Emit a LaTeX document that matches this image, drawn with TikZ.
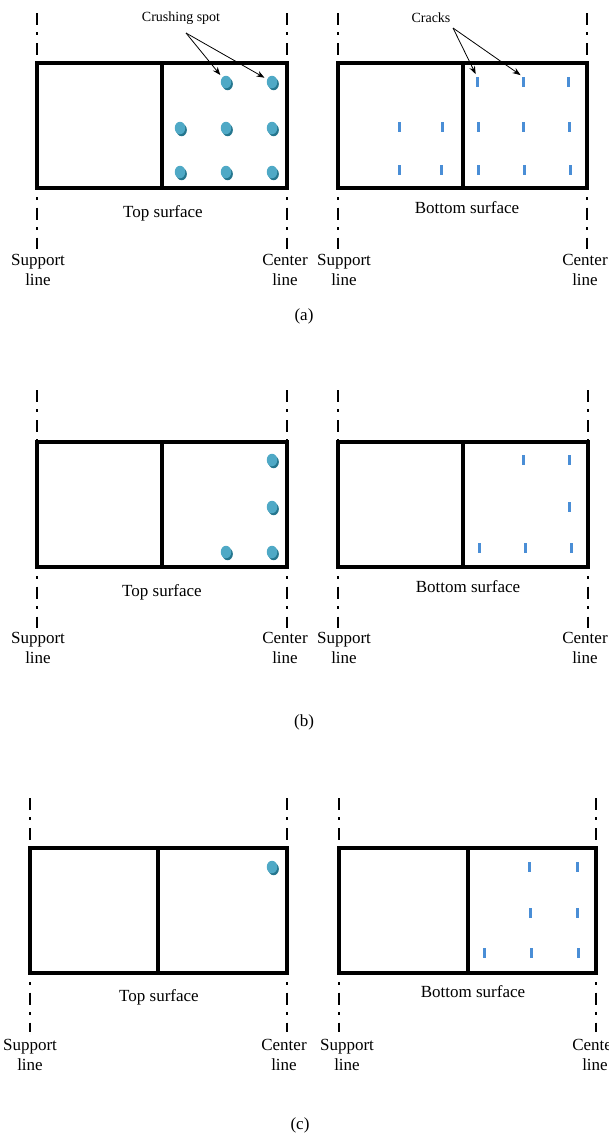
\documentclass[tikz,border=0pt]{standalone}
\usepackage{fontspec}
\setmainfont{Liberation Serif}
\usetikzlibrary{arrows.meta,shapes.geometric,shadows}
\definecolor{spotfill}{HTML}{4FA9C6}
\definecolor{spotshade}{HTML}{25768E}
\definecolor{crackblue}{HTML}{4A8ED6}
\newcommand{\drawslab}[7]{%
  \draw[panel] (#1,#4) rectangle (#3,#5);
  \draw[panel] (#2,#4) -- (#2,#5);
  \draw[axisline] (#1,#6) -- (#1,#4);
  \draw[axisline] (#3,#6) -- (#3,#4);
  \draw[axislow] (#1,#5+9) -- (#1,#7);
  \draw[axislow] (#3,#5+9) -- (#3,#7);
}
\begin{document}
\begin{tikzpicture}[x=1pt,y=-1pt,
  panel/.style={line width=3.2pt},
  axisline/.style={line width=2.5pt, dash pattern=on 12pt off 7pt on 2.5pt off 8.5pt},
  axislow/.style={line width=2.5pt, dash pattern=on 2.5pt off 8pt on 12pt off 7.5pt},
  spot/.style={ellipse, minimum width=10.5pt, minimum height=12.5pt, inner sep=0pt,
    fill=spotfill, drop shadow={shadow xshift=1.6pt, shadow yshift=-2pt, fill=spotshade, opacity=1}},
  crack/.style={rectangle, minimum width=3pt, minimum height=10pt, inner sep=0pt, fill=crackblue},
  lab/.style={font=\fontsize{17}{20}\selectfont, inner sep=0pt, align=center},
  small/.style={font=\fontsize{14}{16}\selectfont, inner sep=0pt},
  pointer/.style={-{Stealth[length=8pt,width=6pt]}, line width=0.8pt, shorten >=3pt}
]
\useasboundingbox (0,0) rectangle (609,1138);

% ---------------- (a) ----------------
\drawslab{37}{162}{287}{63}{188}{13}{249}
\drawslab{338}{463}{587}{63}{188}{13}{249}

\node[small] (cslab) at (181,18) {Crushing spot};
\coordinate (csfrom) at (186,33);
\node[spot] (a1) at (226,82) {};
\node[spot] (a2) at (272,82) {};
\node[spot] (a3) at (180,128) {};
\node[spot] (a4) at (226,128) {};
\node[spot] (a5) at (272,128) {};
\node[spot] (a6) at (180,172) {};
\node[spot] (a7) at (226,172) {};
\node[spot] (a8) at (272,172) {};
\draw[pointer] (csfrom) -- (a1);
\draw[pointer] (csfrom) -- (a2);

\node[small] (crlab) at (431,18) {Cracks};
\coordinate (crfrom) at (453,28);
\node[crack] (ac1) at (477,82) {};
\node[crack] (ac2) at (523,82) {};
\node[crack] (ac3) at (568,82) {};
\node[crack] (ac4) at (399,127) {};
\node[crack] (ac5) at (442,127) {};
\node[crack] (ac6) at (478,127) {};
\node[crack] (ac7) at (523,127) {};
\node[crack] (ac8) at (569,127) {};
\node[crack] (ac9) at (399,170) {};
\node[crack] (ac10) at (441,170) {};
\node[crack] (ac11) at (478,170) {};
\node[crack] (ac12) at (524,170) {};
\node[crack] (ac13) at (570,170) {};
\draw[pointer] (crfrom) -- (ac1.north);
\draw[pointer] (crfrom) -- (ac2.north);

\node[lab] (ats) at (163,213) {Top surface};
\node[lab] (abs) at (467,208) {Bottom surface};
\node[lab] (asl1) at (38,270) {Support\\line};
\node[lab] (acl1) at (285,270) {Center\\line};
\node[lab] (asl2) at (344,270) {Support\\line};
\node[lab] (acl2) at (585,270) {Center\\line};
\node[lab] (capa) at (304,316) {(a)};

% ---------------- (b) ----------------
\drawslab{37}{162}{287}{442}{567}{390}{628}
\drawslab{338}{463}{588}{442}{567}{390}{628}

\node[spot] (b1) at (272,460) {};
\node[spot] (b2) at (272,507) {};
\node[spot] (b3) at (226,552) {};
\node[spot] (b4) at (272,552) {};

\node[crack] (bc1) at (523,460) {};
\node[crack] (bc2) at (569,460) {};
\node[crack] (bc3) at (569,507) {};
\node[crack] (bc4) at (479,548) {};
\node[crack] (bc5) at (525,548) {};
\node[crack] (bc6) at (571,548) {};

\node[lab] (bts) at (162,592) {Top surface};
\node[lab] (bbs) at (468,587) {Bottom surface};
\node[lab] (bsl1) at (38,648) {Support\\line};
\node[lab] (bcl1) at (285,648) {Center\\line};
\node[lab] (bsl2) at (344,648) {Support\\line};
\node[lab] (bcl2) at (585,648) {Center\\line};
\node[lab] (capb) at (304,722) {(b)};

% ---------------- (c) ----------------
\drawslab{30}{158}{287}{848}{973}{798}{1032}
\drawslab{339}{468}{596}{848}{973}{798}{1032}

\node[spot] (c1) at (272,867) {};

\node[crack] (cc1) at (529,867) {};
\node[crack] (cc2) at (577,867) {};
\node[crack] (cc3) at (530,913) {};
\node[crack] (cc4) at (577,913) {};
\node[crack] (cc5) at (484,953) {};
\node[crack] (cc6) at (531,953) {};
\node[crack] (cc7) at (578,953) {};

\node[lab] (cts) at (159,997) {Top surface};
\node[lab] (cbs) at (473,992) {Bottom surface};
\node[lab] (csl1) at (30,1055) {Support\\line};
\node[lab] (ccl1) at (284,1055) {Center\\line};
\node[lab] (csl2) at (347,1055) {Support\\line};
\node[lab] (ccl2) at (595,1055) {Center\\line};
\node[lab] (capc) at (300,1125) {(c)};
\end{tikzpicture}
\end{document}
